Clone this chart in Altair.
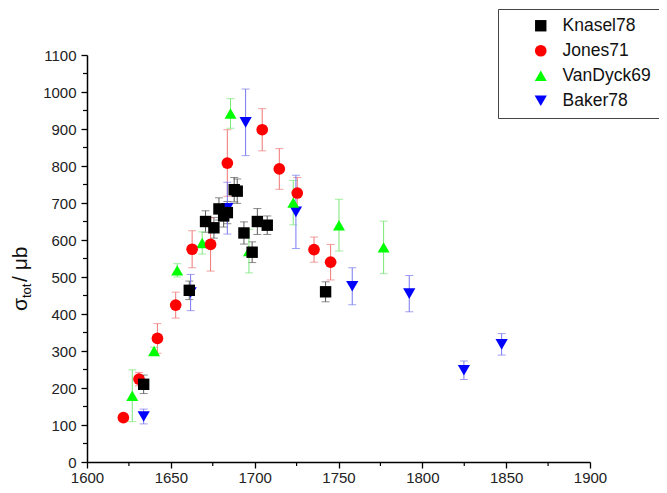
import altair as alt
import pandas as pd

# ---------------- data ----------------
series = ["Knasel78", "Jones71", "VanDyck69", "Baker78"]
point_colors = ["#000000", "#ff0000", "#00ff00", "#0000ff"]
bar_colors = ["#5a5a5a", "#f07878", "#78e878", "#7878f0"]
shapes = ["square", "circle", "triangle-up", "triangle-down"]
sizes = [130, 150, 190, 190]

knasel_w = [1633.8, 1661.0, 1670.7, 1675.7, 1678.7, 1681.5, 1683.7, 1687.8, 1689.6, 1693.6, 1698.5, 1701.6, 1707.5, 1742.3]
knasel_s = [210, 464, 650, 633, 684, 665, 674, 736, 732, 619, 567, 650, 640, 460]
knasel_e = [25, 25, 29, 28, 30, 30, 30, 33, 33, 30, 28, 35, 25, 27]

jones_w = [1621.7, 1631.0, 1642.0, 1652.9, 1662.7, 1673.7, 1683.7, 1704.5, 1714.7, 1725.4, 1735.4, 1745.3]
jones_s = [120, 224, 334, 424, 575, 588, 808, 898, 792, 727, 574, 540]
jones_e = [6, 18, 40, 35, 50, 72, 90, 57, 55, 42, 34, 48]

vandyck_w = [1627.0, 1640.0, 1653.8, 1668.7, 1685.6, 1696.6, 1723.0, 1750.3, 1776.9]
vandyck_s = [179, 300, 518, 592, 942, 570, 701, 640, 580]
vandyck_e = [70, 10, 18, 30, 40, 59, 60, 70, 71]

baker_w = [1633.8, 1661.8, 1683.7, 1694.6, 1724.6, 1758.2, 1792.2, 1824.8, 1847.3]
baker_s = [123, 458, 686, 918, 676, 475, 455, 248, 318]
baker_e = [20, 49, 70, 90, 99, 50, 49, 25, 29]

x_major = [1600, 1650, 1700, 1750, 1800, 1850, 1900]
x_minor = [1625, 1675, 1725, 1775, 1825, 1875]
y_major = [0, 100, 200, 300, 400, 500, 600, 700, 800, 900, 1000, 1100]
y_minor = [50, 150, 250, 350, 450, 550, 650, 750, 850, 950, 1050]

# ---------------- table ----------------
rows = []
draw_rank = {"Baker78": 0, "VanDyck69": 1, "Jones71": 2, "Knasel78": 3}
for name, ws, ss, es in [
    ("Baker78", baker_w, baker_s, baker_e),
    ("VanDyck69", vandyck_w, vandyck_s, vandyck_e),
    ("Jones71", jones_w, jones_s, jones_e),
    ("Knasel78", knasel_w, knasel_s, knasel_e),
]:
    for w, s, e in zip(ws, ss, es):
        rows.append({"series": name, "w": w, "sigma": s, "lo": s - e, "hi": s + e,
                     "rank": draw_rank[name]})
df = pd.DataFrame(rows)

W, H = 503, 407
FONT = "Liberation Sans"

xscale = alt.Scale(domain=[1600, 1900], nice=False, zero=False)
yscale = alt.Scale(domain=[0, 1100], nice=False, zero=False)
xaxis = alt.Axis(values=x_major, title=None, grid=False, tickSize=6, tickWidth=1.3,
                 tickColor="#000", domainColor="#000", domainWidth=1.5,
                 labelFont=FONT, labelFontSize=15, labelColor="#222", labelPadding=2,
                 format="d", labelFlush=False)
yaxis = alt.Axis(values=y_major, title=None, grid=False, tickSize=6, tickWidth=1.3,
                 tickColor="#000", domainColor="#000", domainWidth=1.5,
                 labelFont=FONT, labelFontSize=15, labelColor="#222", labelPadding=5,
                 format="d", labelFlush=False)


def X(f):
    return alt.X(f, type="quantitative", scale=xscale, axis=xaxis)


def Y(f):
    return alt.Y(f, type="quantitative", scale=yscale, axis=yaxis)


layers = []
xminor = alt.Chart(pd.DataFrame({"v": x_minor})).mark_rule(color="#000", strokeWidth=1.2).encode(
    x=X("v"), y=alt.value(H), y2=alt.value(H + 4)
)
yminor = alt.Chart(pd.DataFrame({"v": y_minor})).mark_rule(color="#000", strokeWidth=1.2).encode(
    y=Y("v"), x=alt.value(0), x2=alt.value(-4)
)
layers += [xminor, yminor]

# error bars, one constant colour per series
for name, bc in zip(series, bar_colors):
    sub = alt.Chart(df).transform_filter(alt.datum.series == name)
    layers.append(sub.mark_rule(strokeWidth=1, color=bc).encode(x=X("w"), y=Y("lo"), y2="hi:Q"))
    layers.append(sub.mark_tick(orient="horizontal", size=8, thickness=1, color=bc)
                  .encode(x=X("w"), y=Y("lo")))
    layers.append(sub.mark_tick(orient="horizontal", size=8, thickness=1, color=bc)
                  .encode(x=X("w"), y=Y("hi")))

points = alt.Chart(df).mark_point(filled=True, opacity=1, strokeWidth=0).encode(
    x=X("w"), y=Y("sigma"),
    color=alt.Color("series:N", scale=alt.Scale(domain=series, range=point_colors), title=None,
                    legend=alt.Legend(orient="none", legendX=411, legendY=-46, title=None,
                                      strokeColor="#444", padding=8, symbolOffset=26,
                                      labelFont=FONT, labelFontSize=17.5, labelColor="#111",
                                      labelOffset=13, symbolSize=140, rowPadding=6,
                                      symbolStrokeWidth=0, fillColor="#ffffff")),
    shape=alt.Shape("series:N", scale=alt.Scale(domain=series, range=shapes), title=None),
    size=alt.Size("series:N", scale=alt.Scale(domain=series, range=sizes), legend=None),
    order=alt.Order("rank:Q"),
)
layers.append(points)

one = pd.DataFrame({"t": [""]})
t_sigma = alt.Chart(one).mark_text(text="σ", angle=270, align="left", baseline="alphabetic",
                                   font=FONT, fontSize=21, color="#111").encode(
    x=alt.value(-60), y=alt.value(256))
t_tot = alt.Chart(one).mark_text(text="tot", angle=270, align="left", baseline="alphabetic",
                                 font=FONT, fontSize=13, color="#111").encode(
    x=alt.value(-56), y=alt.value(243))
t_unit = alt.Chart(one).mark_text(text=" / μb", angle=270, align="left", baseline="alphabetic",
                                  font=FONT, fontSize=21, color="#111").encode(
    x=alt.value(-60), y=alt.value(227))
layers += [t_sigma, t_tot, t_unit]

chart = alt.layer(*layers).properties(
    width=W, height=H,
    padding={"left": 79, "top": 47, "right": 69, "bottom": 23},
    autosize=alt.AutoSizeParams(type="none"),
    background="#ffffff",
).configure_view(stroke="transparent", strokeWidth=0)

chart.save("out.html", embed_options={"renderer": "svg", "actions": False})
